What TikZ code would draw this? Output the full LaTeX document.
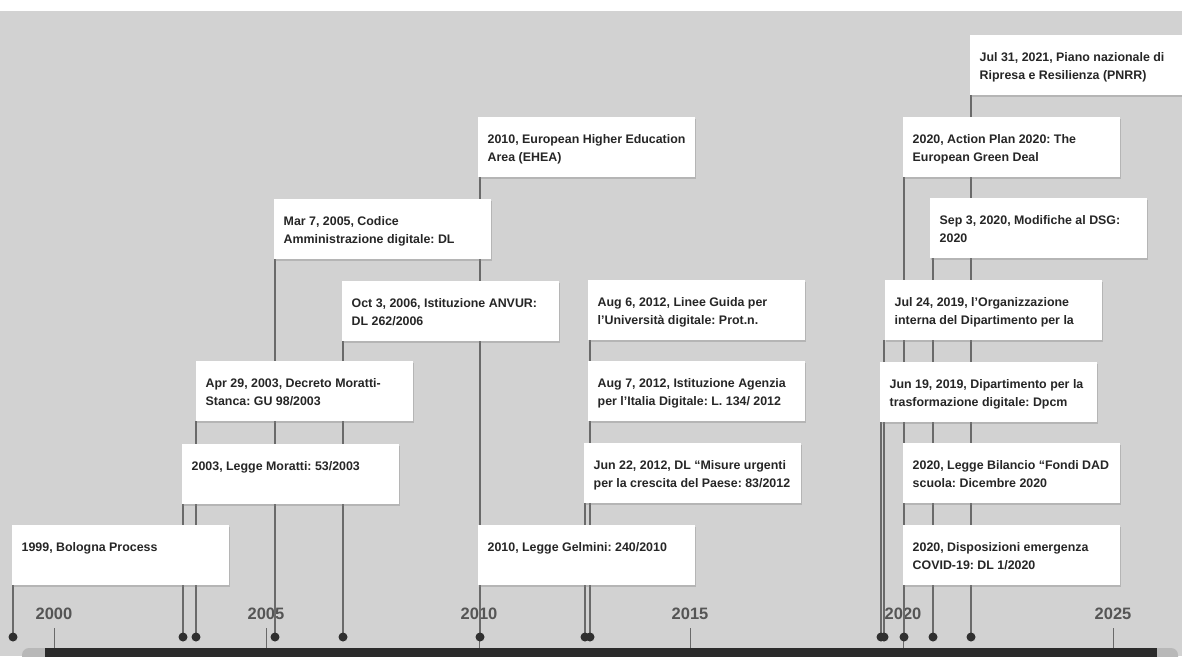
\documentclass[tikz,border=0pt]{standalone}
\usepackage{fontspec}
\setmainfont{Liberation Sans}
\usetikzlibrary{shadows}
\frenchspacing
\definecolor{bggrey}{HTML}{D2D2D2}
\definecolor{txt}{HTML}{262626}
\definecolor{connc}{HTML}{6A6A6A}
\definecolor{dotc}{HTML}{303030}
\definecolor{yearc}{HTML}{555555}
\definecolor{bardark}{HTML}{2B2B2B}
\definecolor{barcap}{HTML}{B8B8B8}
\pgfdeclarelayer{bg}\pgfdeclarelayer{lines}
\pgfsetlayers{bg,lines,main}
\newcommand\evtext[1]{\parbox[t][60pt][t]{217pt}{\raggedright\frenchspacing\leftskip=9.5pt\rule{0pt}{26pt}#1}}
\tikzset{
 evbox/.style={fill=white, inner sep=0pt, anchor=north west, text=txt,
   font=\fontsize{12.4pt}{18.5pt}\selectfont\bfseries,
   drop shadow={shadow xshift=0.8pt, shadow yshift=-2pt, opacity=0.35}},
 evdot/.style={circle, fill=dotc, minimum size=9pt, inner sep=0pt},
 evline/.style={draw=connc, line width=1.2pt},
 yearlab/.style={text=yearc, font=\fontsize{16.5pt}{18pt}\selectfont\bfseries, inner sep=0pt},
 yeartick/.style={draw=connc, line width=1pt},
}
\begin{document}
\begin{tikzpicture}[x=1pt,y=-1pt]
\useasboundingbox (0,0) rectangle (1182,656);
\begin{pgfonlayer}{bg}
\fill[white] (0,0) rectangle (1182,656);
\fill[bggrey] (0,11) rectangle (1182,656);
\fill[barcap, rounded corners=7pt] (22,648) rectangle (1178,672);
\fill[bardark] (45,648) rectangle (1157,672);
\foreach \yr/\xx in {2000/54, 2005/266, 2010/479, 2015/690, 2020/903, 2025/1113} {
  \node[yearlab] (y\yr) at (\xx,614) {\yr};
  \draw[yeartick] (\xx,628) -- (\xx,648);
}
\end{pgfonlayer}

% event dots
\node[evdot] (d1999) at (13,637) {};
\node[evdot] (d2003a) at (183,637) {};
\node[evdot] (d2003b) at (196,637) {};
\node[evdot] (d2005) at (275,637) {};
\node[evdot] (d2006) at (343,637) {};
\node[evdot] (d2010) at (480,637) {};
\node[evdot] (d2012a) at (585,637) {};
\node[evdot] (d2012b) at (590,637) {};
\node[evdot] (d2019a) at (881,637) {};
\node[evdot] (d2019b) at (884,637) {};
\node[evdot] (d2020) at (904,637) {};
\node[evdot] (d2020s) at (933,637) {};
\node[evdot] (d2021) at (971,637) {};

% event boxes
\node[evbox] (b1999) at (12,525) {\evtext{1999, Bologna Process}};
\node[evbox] (bMoratti) at (182,444) {\evtext{2003, Legge Moratti: 53/2003}};
\node[evbox] (bStanca) at (196,361) {\evtext{Apr 29, 2003, Decreto Moratti-\\Stanca: GU 98/2003}};
\node[evbox] (bCAD) at (274,199) {\evtext{Mar 7, 2005, Codice\\Amministrazione digitale: DL}};
\node[evbox] (bANVUR) at (342,281) {\evtext{Oct 3, 2006, Istituzione ANVUR:\\DL 262/2006}};
\node[evbox] (bEHEA) at (478,117) {\evtext{2010, European Higher Education\\Area (EHEA)}};
\node[evbox] (bGelmini) at (478,525) {\evtext{2010, Legge Gelmini: 240/2010}};
\node[evbox] (bLinee) at (588,280) {\evtext{Aug 6, 2012, Linee Guida per\\l'Università digitale: Prot.n.}};
\node[evbox] (bAgenzia) at (588,361) {\evtext{Aug 7, 2012, Istituzione Agenzia\\per l'Italia Digitale: L. 134/ 2012}};
\node[evbox] (bCrescita) at (584,443) {\evtext{Jun 22, 2012, DL “Misure urgenti\\per la crescita del Paese: 83/2012}};
\node[evbox] (bPNRR) at (970,35) {\evtext{Jul 31, 2021, Piano nazionale di\\Ripresa e Resilienza (PNRR)}};
\node[evbox] (bGreen) at (903,117) {\evtext{2020, Action Plan 2020: The\\European Green Deal}};
\node[evbox] (bDSG) at (930,198) {\evtext{Sep 3, 2020, Modifiche al DSG:\\2020}};
\node[evbox] (bOrg) at (885,280) {\evtext{Jul 24, 2019, l'Organizzazione\\interna del Dipartimento per la}};
\node[evbox] (bDip) at (880,362) {\evtext{Jun 19, 2019, Dipartimento per la\\trasformazione digitale: Dpcm}};
\node[evbox] (bDAD) at (903,443) {\evtext{2020, Legge Bilancio “Fondi DAD\\scuola: Dicembre 2020}};
\node[evbox] (bCovid) at (903,525) {\evtext{2020, Disposizioni emergenza\\COVID-19: DL 1/2020}};

% connectors
\begin{pgfonlayer}{lines}
\draw[evline] (d1999.center) -- (d1999.center |- b1999.south);
\draw[evline] (d2003a.center) -- (d2003a.center |- bMoratti.south);
\draw[evline] (d2003b.center) -- (d2003b.center |- bStanca.south);
\draw[evline] (d2005.center) -- (d2005.center |- bCAD.south);
\draw[evline] (d2006.center) -- (d2006.center |- bANVUR.south);
\draw[evline] (d2010.center) -- (d2010.center |- bEHEA.south);
\draw[evline] (d2010.center) -- (d2010.center |- bGelmini.south);
\draw[evline] (d2012a.center) -- (d2012a.center |- bCrescita.south);
\draw[evline] (d2012b.center) -- (d2012b.center |- bLinee.south);
\draw[evline] (d2012b.center) -- (d2012b.center |- bAgenzia.south);
\draw[evline] (d2019a.center) -- (d2019a.center |- bDip.south);
\draw[evline] (d2019b.center) -- (d2019b.center |- bOrg.south);
\draw[evline] (d2020.center) -- (d2020.center |- bGreen.south);
\draw[evline] (d2020.center) -- (d2020.center |- bDAD.south);
\draw[evline] (d2020.center) -- (d2020.center |- bCovid.south);
\draw[evline] (d2020s.center) -- (d2020s.center |- bDSG.south);
\draw[evline] (d2021.center) -- (d2021.center |- bPNRR.south);
\end{pgfonlayer}
\end{tikzpicture}
\end{document}
